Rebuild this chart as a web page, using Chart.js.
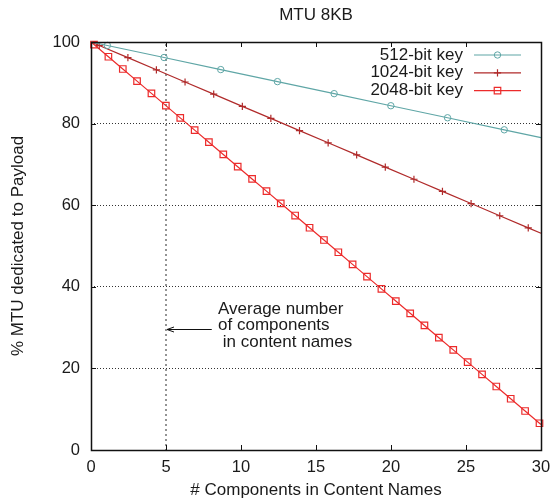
<!DOCTYPE html>
<html><head><meta charset="utf-8">
<script src="https://cdn.jsdelivr.net/npm/chart.js@4/dist/chart.umd.min.js"></script>
<style>html,body{margin:0;padding:0;background:#fff}#wrap{width:555px;height:501px}</style>
</head><body><div id="wrap"><canvas id="c" width="555" height="501"></canvas></div>
<script>
const chartTitle = 'MTU 8KB';
const xAxisTitle = '# Components in Content Names';
const yAxisTitle = '% MTU dedicated to Payload';
const seriesNames = ['512-bit key', '1024-bit key', '2048-bit key'];

const x512 = [0, 1.09, 4.87, 8.65, 12.43, 16.21, 19.99, 23.77, 27.55, 30];
const y512 = [100, 99.15, 96.2, 93.24, 90.29, 87.34, 84.38, 81.43, 78.48, 76.56];

const x1024 = [0, 0.55, 2.46, 4.36, 6.27, 8.18, 10.09, 11.99, 13.9, 15.81, 17.71, 19.62, 21.53, 23.43, 25.34, 27.25, 29.15, 30];
const y1024 = [100, 99.14, 96.16, 93.19, 90.2, 87.22, 84.23, 81.27, 78.28, 75.3, 72.33, 69.34, 66.36, 63.39, 60.41, 57.42, 54.45, 53.13];

const x2048 = [0, 0.2, 1.16, 2.12, 3.07, 4.03, 4.99, 5.95, 6.91, 7.86, 8.82, 9.78, 10.74, 11.7, 12.65, 13.61, 14.57, 15.53, 16.49, 17.44, 18.4, 19.36, 20.32, 21.28, 22.23, 23.19, 24.15, 25.11, 26.07, 27.02, 27.98, 28.94, 29.9, 30];
const y2048 = [100, 99.38, 96.38, 93.38, 90.41, 87.41, 84.41, 81.41, 78.41, 75.44, 72.44, 69.44, 66.44, 63.44, 60.47, 57.47, 54.47, 51.47, 48.47, 45.5, 42.5, 39.5, 36.5, 33.5, 30.53, 27.53, 24.53, 21.53, 18.53, 15.56, 12.56, 9.56, 6.56, 6.25];

const xTicks = [0, 5, 10, 15, 20, 25, 30];
const yTicks = [0, 20, 40, 60, 80, 100];
const avgComponents = 5;
const noteArrowFrom = [8.05, 29.7];
const noteTextAt = [8.47, 34.6];
const noteLines = ['Average number', 'of components', ' in content names'];

const FONT = "'Liberation Sans', Arial, sans-serif";
const TXT = '#1a1a1a';
const FS = 17;

function pts(xs, ys) { return xs.map((v, i) => ({ x: v, y: ys[i] })); }
function endless(r) { return ctx => (ctx.dataIndex === 0 || ctx.dataIndex === ctx.dataset.data.length - 1) ? 0 : r; }

const styles = [
  { color: '#5fa6a6', pointStyle: 'circle', radius: 3.2, bw: 1 },
  { color: '#b02a2a', pointStyle: 'cross', radius: 3.6, bw: 1.2 },
  { color: '#ec2b2b', pointStyle: 'rect', radius: 4.6, bw: 1.2 }
];
const seriesData = [pts(x512, y512), pts(x1024, y1024), pts(x2048, y2048)];

const datasets = seriesData.map((d, i) => ({
  label: seriesNames[i],
  data: d,
  showLine: true,
  borderColor: styles[i].color,
  borderWidth: 1.2,
  pointStyle: styles[i].pointStyle,
  pointRadius: endless(styles[i].radius),
  pointBorderColor: styles[i].color,
  pointBackgroundColor: 'rgba(0,0,0,0)',
  pointBorderWidth: styles[i].bw,
  clip: false,
  tension: 0
}));

const decor = {
  id: 'decor',
  beforeDatasetsDraw(chart) {
    const { ctx, chartArea: a, scales: { x } } = chart;
    const px = Math.round(x.getPixelForValue(avgComponents));
    ctx.save();
    ctx.strokeStyle = '#939393'; ctx.lineWidth = 2; ctx.setLineDash([2, 3]);
    ctx.beginPath(); ctx.moveTo(px, a.top + 2); ctx.lineTo(px, a.bottom); ctx.stroke();
    ctx.restore();
  },
  afterDraw(chart) {
    const { ctx, chartArea: a, scales: { x, y } } = chart;
    ctx.save();
    ctx.strokeStyle = '#111'; ctx.lineWidth = 1.5; ctx.setLineDash([]);
    ctx.strokeRect(a.left + 0.5, a.top + 0.5, a.right - a.left, a.bottom - a.top);
    ctx.lineWidth = 1;
    ctx.beginPath();
    xTicks.forEach(v => {
      const p = Math.round(x.getPixelForValue(v)) + 0.5;
      ctx.moveTo(p, a.bottom); ctx.lineTo(p, a.bottom - 5);
      ctx.moveTo(p, a.top); ctx.lineTo(p, a.top + 5);
    });
    yTicks.forEach(v => {
      const p = Math.round(y.getPixelForValue(v)) + 0.5;
      ctx.moveTo(a.left, p); ctx.lineTo(a.left + 5, p);
      ctx.moveTo(a.right, p); ctx.lineTo(a.right - 5, p);
    });
    ctx.stroke();
    const ax0 = x.getPixelForValue(noteArrowFrom[0]);
    const ax1 = x.getPixelForValue(avgComponents) + 1;
    const ay = Math.round(y.getPixelForValue(noteArrowFrom[1])) + 0.5;
    ctx.strokeStyle = '#111'; ctx.lineWidth = 1;
    ctx.beginPath();
    ctx.moveTo(ax0, ay); ctx.lineTo(ax1, ay);
    ctx.moveTo(ax1 + 7, ay - 2.5); ctx.lineTo(ax1, ay); ctx.lineTo(ax1 + 7, ay + 2.5);
    ctx.stroke();
    ctx.fillStyle = TXT; ctx.font = FS + 'px ' + FONT; ctx.textAlign = 'left'; ctx.textBaseline = 'middle';
    const tx = x.getPixelForValue(noteTextAt[0]);
    const ty = y.getPixelForValue(noteTextAt[1]);
    noteLines.forEach((s, i) => ctx.fillText(s, tx, ty + i * 16.8));
    ctx.textAlign = 'right';
    chart.data.datasets.forEach((ds, i) => {
      const ly = 55 + i * 17.8;
      ctx.fillStyle = TXT;
      ctx.fillText(ds.label, 463, ly);
      ctx.strokeStyle = ds.borderColor; ctx.lineWidth = ds.borderWidth;
      ctx.beginPath(); ctx.moveTo(474, ly); ctx.lineTo(521, ly); ctx.stroke();
      ctx.lineWidth = styles[i].bw;
      ctx.fillStyle = 'rgba(0,0,0,0)';
      Chart.helpers.drawPoint(ctx, { pointStyle: ds.pointStyle, radius: styles[i].radius, rotation: 0, borderWidth: styles[i].bw }, 497.5, ly);
    });
    ctx.restore();
  }
};

const tickFont = { family: FONT, size: 16.5 };
const labelFont = { family: FONT, size: FS };
new Chart(document.getElementById('c'), {
  type: 'scatter',
  data: { datasets },
  plugins: [decor],
  options: {
    responsive: false, animation: false, events: [],
    layout: { padding: { top: 0, right: 14, left: 0, bottom: 0 } },
    plugins: {
      legend: { display: false }, tooltip: { enabled: false },
      title: { display: true, text: chartTitle, fullSize: false, color: TXT, font: { family: FONT, size: FS, weight: 'normal' }, padding: { top: 5, bottom: 16.6 } }
    },
    scales: {
      x: {
        type: 'linear', min: 0, max: 30,
        afterBuildTicks: s => { s.ticks = xTicks.map(v => ({ value: v })); },
        ticks: { color: TXT, font: tickFont, padding: 8, maxRotation: 0, autoSkip: false },
        grid: { display: false, drawTicks: false },
        border: { display: false },
        title: { display: true, text: xAxisTitle, color: TXT, font: labelFont, padding: { top: 0, bottom: 0 } },
        afterFit: s => { s.height = 51; s.paddingLeft = 0; s.paddingRight = 0; }
      },
      y: {
        type: 'linear', min: 0, max: 100,
        afterBuildTicks: s => { s.ticks = yTicks.map(v => ({ value: v })); },
        ticks: { color: TXT, font: tickFont, padding: 11 },
        grid: { drawTicks: false, lineWidth: 1, color: c => (c.tick && (c.tick.value === 0 || c.tick.value === 100)) ? 'rgba(0,0,0,0)' : '#333' },
        border: { display: false, dash: [1, 2] },
        title: { display: true, text: yAxisTitle, color: TXT, font: labelFont, padding: { top: 8, bottom: 8 } },
        afterFit: s => { s.width = 91; s.paddingTop = 0; s.paddingBottom = 0; }
      }
    }
  }
});
</script></body></html>
